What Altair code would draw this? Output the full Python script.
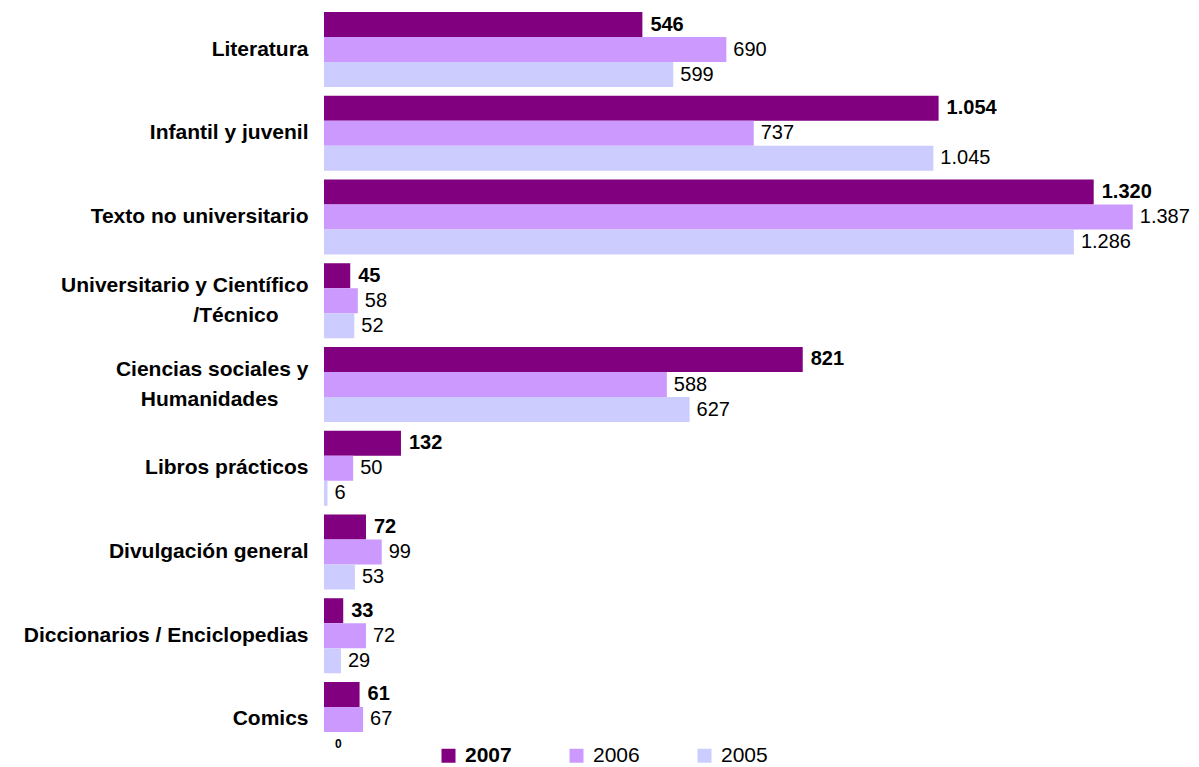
import altair as alt
import pandas as pd

PADCH = "\u2800"
categories = [
    "Literatura",
    "Infantil y juvenil",
    "Texto no universitario",
    "Universitario y Científico|/Técnico" + PADCH * 2,
    "Ciencias sociales y|Humanidades" + PADCH * 2,
    "Libros prácticos",
    "Divulgación general",
    "Diccionarios / Enciclopedias",
    "Comics",
]
series = ["2007", "2006", "2005"]
v2007 = [546, 1054, 1320, 45, 821, 132, 72, 33, 61]
v2006 = [690, 737, 1387, 58, 588, 50, 99, 72, 67]
v2005 = [599, 1045, 1286, 52, 627, 6, 53, 29, 0]
colors = ["#800080", "#CC99FF", "#CCCCFF"]

rows = []
for i, c in enumerate(categories):
    for s, vals in zip(series, [v2007, v2006, v2005]):
        v = vals[i]
        rows.append(dict(cat=c, series=s, value=v, label=f"{v:,}".replace(",", ".")))
df = pd.DataFrame(rows)

FONT = "Liberation Sans"

y = alt.Y(
    "cat:N",
    sort=categories,
    scale=alt.Scale(paddingInner=0.104, paddingOuter=0),
    axis=alt.Axis(
        title=None,
        labelExpr="split(datum.label, '|')",
        labelFontSize=21,
        labelFontWeight="bold",
        labelFont=FONT,
        labelColor="black",
        labelPadding=16,
        labelOffset={"condition": {"test": "indexof(datum.value, '|') >= 0", "value": -15}, "value": 0},
        ticks=False,
        tickSize=0,
        domain=False,
        grid=False,
        labelLineHeight=30,
        labelLimit=400,
    ),
)
yoff = alt.YOffset("series:N", sort=series, scale=alt.Scale(paddingInner=0, paddingOuter=0))
x = alt.X("value:Q", scale=alt.Scale(domain=[0, 1480], nice=False, zero=True), axis=None)

bars = alt.Chart(df).mark_bar().encode(
    x=x,
    y=y,
    yOffset=yoff,
    color=alt.Color(
        "series:N",
        sort=series,
        scale=alt.Scale(domain=series, range=colors),
        legend=alt.Legend(
            title=None,
            orient="none",
            legendX=114,
            legendY=733,
            direction="horizontal",
            symbolType="square",
            symbolSize=196,
            symbolStrokeWidth=0,
            symbolOpacity=1,
            labelFontSize=21,
            labelFont=FONT,
            labelColor="black",
            labelFontWeight=alt.ExprRef("datum.label == '2007' ? 'bold' : 'normal'"),
            columnPadding=54,
            labelOffset=6,
        ),
    ),
)

base = alt.Chart(df).encode(x=x, y=y, yOffset=yoff, text="label:N")

lab07 = base.transform_filter("datum.series == '2007'").mark_text(
    align="left", baseline="middle", dx=8, fontSize=20, fontWeight="bold", font=FONT, color="black"
)
labOther = base.transform_filter("datum.series != '2007' && datum.value > 0").mark_text(
    align="left", baseline="middle", dx=7, fontSize=20, fontWeight="normal", font=FONT, color="black"
)
labZero = base.transform_filter("datum.value == 0").mark_text(
    align="left", baseline="middle", dx=11, fontSize=12, fontWeight="bold", font=FONT, color="black"
)

chart = (
    alt.layer(bars, lab07, labOther, labZero)
    .properties(
        width=863,
        height=745,
        autosize="none",
        padding={"left": 316, "top": 4, "right": 4, "bottom": 18},
    )
    .configure_view(stroke=None)
)

chart.save("out.html", embed_options={"renderer": "svg", "actions": False})
